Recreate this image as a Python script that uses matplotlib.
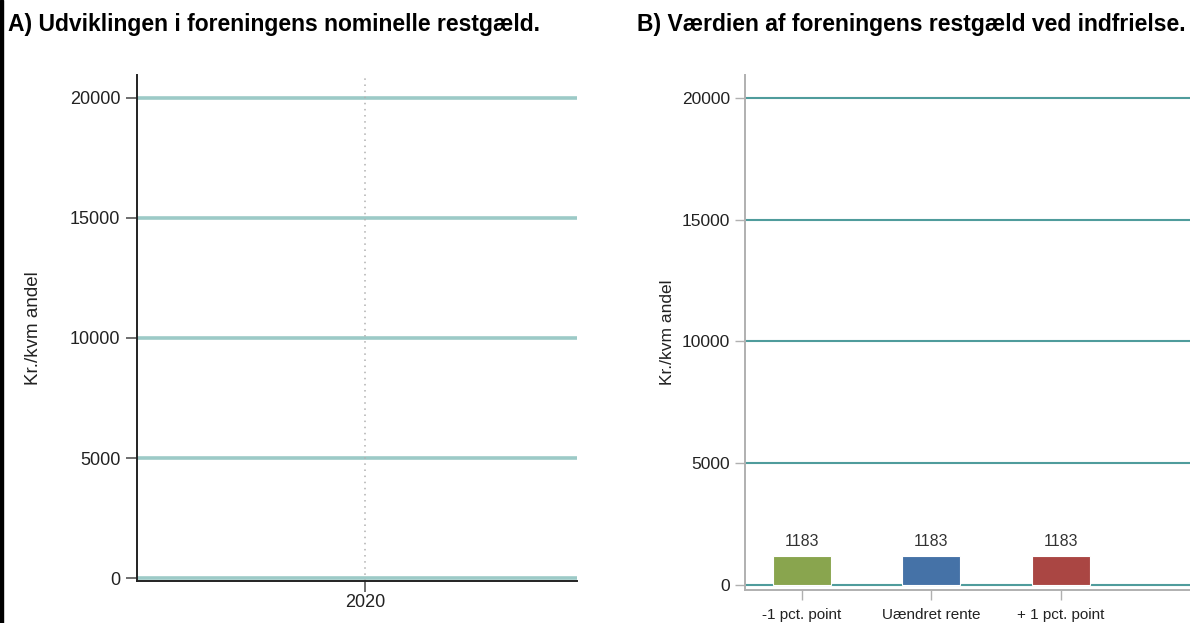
#!/usr/bin/env python3
"""Restgæld: nominel udvikling (A) og værdi ved indfrielse (B)."""

import matplotlib

matplotlib.use("Agg")
import matplotlib.pyplot as plt
from matplotlib.patches import Rectangle

plt.rcParams["font.family"] = ["Liberation Sans", "DejaVu Sans"]

# data
years = [2020]
scenarios = ["-1 pct. point", "Uændret rente", "+ 1 pct. point"]
vaerdi = [1183, 1183, 1183]
bar_colors = ["#89A54E", "#4572A7", "#AA4643"]
yticks = [0, 5000, 10000, 15000, 20000]

fig = plt.figure(figsize=(11.9, 6.23), dpi=100)

# venstre kant
fig.patches.append(Rectangle((0, 0), 2.5 / 1190, 1, transform=fig.transFigure,
                             color="black", zorder=10))

# --- A ---
ax1 = fig.add_axes([0.1151, 0.0674, 0.3697, 0.8122])
ax1.set_ylim(-120, 20950)
ax1.set_xlim(years[0] - 1.036, years[0] + 0.964)
for v in yticks:
    ax1.axhline(v, color="#9ccac7", lw=2.6, zorder=1)
for y in years:
    ax1.axvline(y, color="#b0b0b0", lw=1.1, ls=(0, (1, 3)), zorder=2)
ax1.set_yticks(yticks)
ax1.set_yticklabels([str(v) for v in yticks])
ax1.set_xticks(years)
ax1.set_xticklabels([str(y) for y in years])
for s in ["top", "right"]:
    ax1.spines[s].set_visible(False)
for s in ["left", "bottom"]:
    ax1.spines[s].set_color("#222222")
    ax1.spines[s].set_linewidth(1.4)
ax1.tick_params(axis="both", length=8, width=1.2, color="#555555",
                labelsize=13, labelcolor="#222222", pad=4)
ax1.tick_params(axis="x", pad=1)
ax1.set_ylabel("Kr./kvm andel", fontsize=13.5, color="#222222", labelpad=20)
fig.text(8 / 1190, 1 - 25 / 623, "A) Udviklingen i foreningens nominelle restgæld.",
         fontsize=16.5, fontweight="bold", va="center", ha="left")

# --- B ---
ax2 = fig.add_axes([0.626, 0.053, 0.374, 0.8266])
ax2.set_ylim(-210, 20950)
x = list(range(len(scenarios)))
ax2.set_xlim(-0.44, 3.0)
for v in yticks:
    ax2.axhline(v, color="#4f9c9c", lw=1.5, zorder=1)
bars = ax2.bar(x, vaerdi, width=0.45, color=bar_colors, edgecolor="white",
               linewidth=0.8, zorder=3)
for xi, v in zip(x, vaerdi):
    ax2.text(xi, v + 300, str(v), ha="center", va="bottom", fontsize=11.5,
             color="#333333")
ax2.set_yticks(yticks)
ax2.set_yticklabels([str(v) for v in yticks])
ax2.set_xticks(x)
ax2.set_xticklabels(scenarios)
for s in ["top", "right"]:
    ax2.spines[s].set_visible(False)
for s in ["left", "bottom"]:
    ax2.spines[s].set_color("#b0b0b0")
    ax2.spines[s].set_linewidth(1.4)
ax2.tick_params(axis="both", length=7, width=1.0, color="#b0b0b0",
                labelsize=11, labelcolor="#222222")
ax2.tick_params(axis="y", labelsize=12.5)
ax2.tick_params(axis="x", pad=6)
ax2.set_ylabel("Kr./kvm andel", fontsize=12.5, color="#222222", labelpad=5)
fig.text(911 / 1190, 1 - 25 / 623, "B) Værdien af foreningens restgæld ved indfrielse.",
         fontsize=16.5, fontweight="bold", va="center", ha="center")

fig.savefig("out.png", dpi=100)
plt.close(fig)
